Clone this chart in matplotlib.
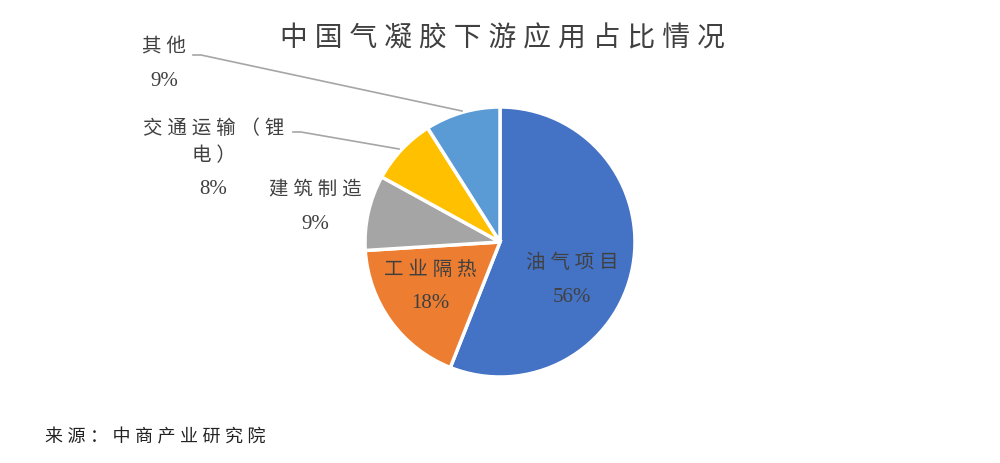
import matplotlib
matplotlib.use('Agg')
import matplotlib.pyplot as plt

labels = ['油气项目', '工业隔热', '建筑制造', '交通运输（锂\n电）', '其他']
values = [56, 18, 9, 8, 9]
colors = ['#4472C4', '#ED7D31', '#A5A5A5', '#FFC000', '#5B9BD5']

FONT = ['Liberation Serif', 'Noto Sans CJK SC', 'DejaVu Sans']
plt.rcParams['font.family'] = FONT


def spaced(s):
    return '\n'.join(' '.join(line) for line in s.split('\n'))


fig = plt.figure(figsize=(10, 4.64), dpi=100)
ax = fig.add_axes([0, 0, 1, 1])
ax.axis('off')

wedges, _ = ax.pie(values, colors=colors, startangle=90, counterclock=False,
                   radius=135, center=(500, 221),
                   wedgeprops=dict(edgecolor='white', linewidth=2.5))
ax.set_xlim(0, 1000)
ax.set_ylim(0, 464)
ax.set_aspect('equal')

txt = '#404040'
# name position / percent position (pixels, y from bottom)
name_pos = [(572, 201), (430, 194), (315, 274), (214, 322), (164, 417)]
pct_pos = [(572, 166), (430, 161), (315, 239), (213, 274), (164, 382)]
for lab, v, (nx, ny), (px, py) in zip(labels, values, name_pos, pct_pos):
    ax.text(nx, ny, spaced(lab), ha='center', va='center', fontsize=14,
            color=txt, linespacing=1.6)
    ax.text(px, py, f'{v}%', ha='center', va='center', fontsize=15, color=txt)

# leader lines
ax.plot([193, 201, 462], [408, 408, 352], color='#A6A6A6', lw=1.2)
ax.plot([293, 301, 399], [331, 331, 314], color='#A6A6A6', lw=1.2)

fig.text(0.502, 0.915, '中 国 气 凝 胶 下 游 应 用 占 比 情 况', ha='center', va='center',
         fontsize=20, color=txt)
fig.text(0.045, 0.056, spaced('来源：中商产业研究院'), ha='left', va='center',
         fontsize=13, color='#222222')

fig.savefig('out.png', dpi=100, facecolor='white')
